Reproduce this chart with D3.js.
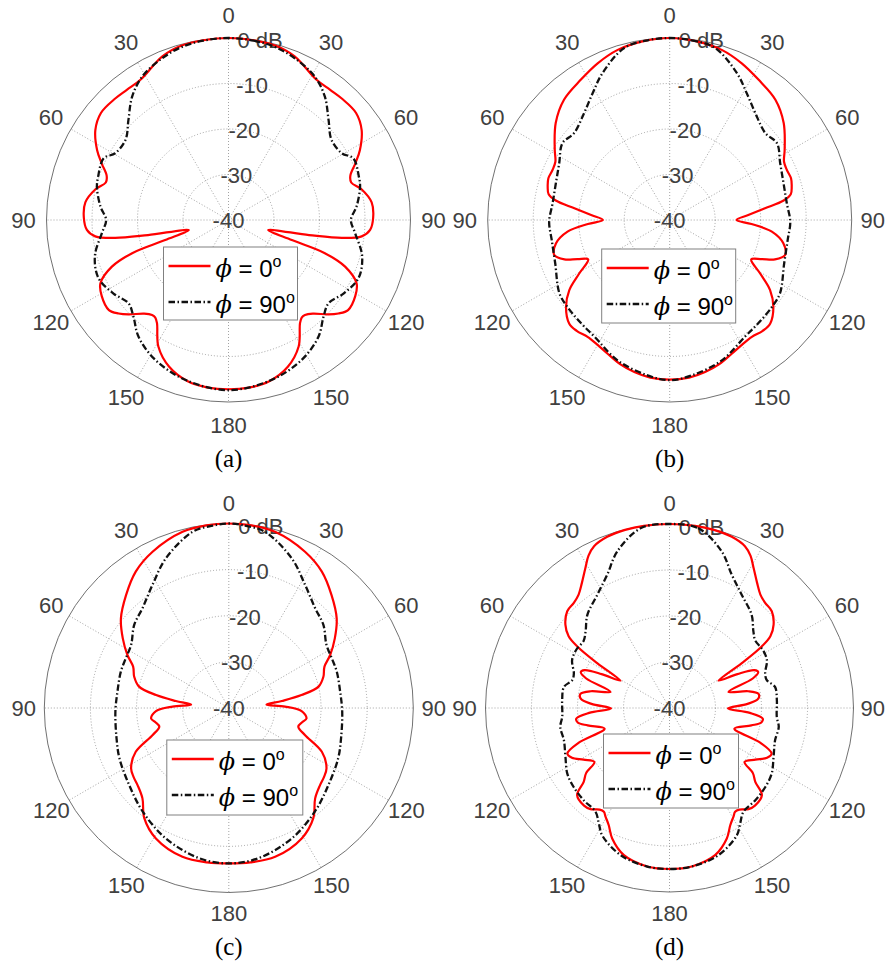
<!DOCTYPE html>
<html lang="en">

<head>
  <meta charset="utf-8">
  <style>
    body { margin: 0; background: #fff; }
    svg { display: block; }
  </style>
</head>

<body>
  <script src="https://cdn.jsdelivr.net/npm/d3@7"></script>
  <script>

  // angle labels, clockwise from the top, one every 30 degrees
  var thetaLabels = ["0", "30", "60", "90", "120", "150", "180", "150", "120", "90", "60", "30"];
  var rTicks = [0, -10, -20, -30, -40];
  var captions = ["(a)", "(b)", "(c)", "(d)"];
  var legendLabels = ["0", "90"];

  // [theta (deg), gain (dB)], theta 0..180, pattern drawn mirrored on both sides
  var aPhi0 = [[0, 0], [8, -0.1], [15, -0.3], [22, -1.2], [32, -3.6], [38, -3.7], [43, -3.5], [50, -3.4],
    [56, -4.7], [62, -7.3], [66, -9.5], [70, -11.5], [73, -11.8], [77, -10], [83, -8.3], [89, -8.2],
    [94, -8.8], [97, -10.5], [99, -14.8], [100.6, -22], [104.3, -31], [107.6, -25.4], [109, -17.6],
    [111.8, -12.4], [116.3, -8.6], [121, -7.5], [127, -7.1], [130.4, -8.3], [133.4, -9.8], [138, -12.3],
    [141.2, -13.2], [143.1, -13.2], [145.3, -12.4], [151, -8.2], [158, -5.2], [166, -3.4], [173, -2.9], [180, -2.8]];
  var aPhi90 = [[0, 0], [8, -0.2], [15, -0.6], [22.4, -1.6], [31, -3.2], [38, -5.6], [45, -8.9], [52, -11.3],
    [59.5, -11.1], [63.7, -9.4], [71.6, -9.8], [76, -10.2], [84, -11.7], [90, -13.1], [96, -12],
    [105, -9.6], [114, -8.7], [122.6, -10], [129.8, -11.4], [135.5, -10.2], [142.4, -7.6], [152.4, -5.3],
    [165, -3.6], [180, -2.6]];

  var bPhi0 = [[0, 0], [9, -0.3], [17, -0.9], [24.7, -2.1], [32.3, -3.5], [41.3, -4.8], [49.6, -7.1],
    [58.6, -10.4], [63, -11.8], [66.9, -12], [71, -11.8], [74.7, -12.2], [78, -12.8], [80.3, -14.6],
    [83, -18.9], [86.4, -22.7], [90, -25.3], [92.8, -22], [96.5, -17.4], [101.6, -14.5], [106.9, -13.5],
    [110.5, -15.3], [113, -18], [115.8, -20.1], [120.6, -16.9], [124.9, -13.1], [129.9, -10.3],
    [135.8, -8.3], [140, -8.2], [144.9, -8.6], [150, -8.3], [155.1, -7.6], [161, -6.5], [166.9, -5.7],
    [173, -5.1], [180, -4.9]];
  var bPhi90 = [[0, 0], [7, -0.2], [14.8, -0.9], [24.6, -4.5], [31.3, -7.4], [38.7, -9.9], [47.7, -11.6],
    [54.4, -11], [62.8, -12.7], [72, -13.7], [82, -14], [90.8, -13.5], [99.6, -13.7], [110.7, -13.1],
    [123.6, -10.9], [130.4, -10.5], [139.4, -10.1], [147.1, -9.5], [159.6, -7.1], [171.9, -5.5], [180, -4.8]];

  var cPhi0 = [[0, 0], [7, -0.1], [14.7, -0.5], [26, -2.3], [34.3, -4.2], [42.3, -6.9], [50.3, -9.6],
    [56.7, -12.5], [62.4, -15.2], [66.6, -17.4], [71.7, -18.4], [76.6, -20], [79.9, -24], [82.5, -28.4],
    [85, -31.8], [88.6, -27.8], [92.4, -24.2], [97.6, -23], [101, -23.8], [105, -24.4], [109.5, -22.5],
    [115.2, -17.7], [121.7, -15.1], [126, -14.5], [130.2, -14.1], [136.3, -12.9], [142.5, -9.9],
    [150.8, -7.6], [162.7, -6.2], [172, -6.2], [180, -6.3]];
  var cPhi90 = [[0, 0], [5, -0.3], [11.6, -1], [22.8, -4.8], [31.8, -8.6], [40.9, -11.4], [48.7, -12.7],
    [57.2, -14.8], [64.2, -15.2], [71.4, -15.3], [81.6, -15.6], [91.8, -15.4], [105, -14.8],
    [114.7, -13.9], [127.7, -12.7], [140.3, -10.8], [154.2, -8.6], [168.9, -6.8], [180, -6.3]];

  var dPhi0 = [[0, 0], [8, 0], [14, -0.1], [20, -0.4], [25, -1.2], [28, -2.5], [31, -4.5], [35, -6.8],
    [38.7, -8.4], [42.3, -9.1], [46.6, -9.4], [51.3, -11], [54.6, -13.1], [56.3, -15.9], [58.2, -21.5],
    [60.9, -27.8], [63.5, -23.5], [66, -19.8], [68, -19.2], [70.5, -20.8], [74.7, -26.7], [78, -22.5],
    [81, -20.4], [84, -20.6], [87, -23], [90.5, -27.3], [93.5, -22.5], [96.5, -19.6], [99, -19.8],
    [102, -21.8], [107.6, -25.2], [111, -18.8], [114, -15.7], [117, -16.2], [121, -18.2], [125.7, -19.9],
    [128, -17], [130.7, -15.4], [133.3, -12.4], [138.8, -11.8], [142, -12.1], [145.5, -13.2],
    [147.7, -13.3], [149.5, -12.6], [152.6, -11.3], [156.3, -9], [162.8, -6.5], [172, -5.2], [180, -5]];
  var dPhi90 = [[0, 0], [9, -0.4], [18.4, -4.1], [25, -8], [32.5, -10.8], [41.4, -13], [47.6, -15.3],
    [52, -16.3], [58, -16.1], [63.8, -16.4], [70.2, -17.9], [74, -18], [78.7, -16.6], [85.8, -16.6],
    [94.7, -16.6], [99.8, -15.9], [107, -16], [115.2, -15], [122.7, -13.6], [129.5, -13], [137.2, -12.6],
    [144.5, -12.3], [148.5, -10.6], [152.1, -8.7], [161.6, -6.3], [172, -5.2], [180, -5]];

  var width = 886, height = 965;
  var sans = "'Liberation Sans', Arial, sans-serif";

  var panels = [
    {cx: 228.5, cy: 220, R: 182, capY: 467, leg: [-65, 27, 134, 73], red: aPhi0, black: aPhi90},
    {cx: 669.7, cy: 220, R: 182, capY: 467, leg: [-68, 29, 134, 74], red: bPhi0, black: bPhi90},
    {cx: 228.8, cy: 708, R: 184.5, capY: 955, leg: [-62, 32, 136, 75], red: cPhi0, black: cPhi90},
    {cx: 669.5, cy: 708, R: 184, capY: 955, leg: [-66, 26, 135, 74], red: dPhi0, black: dPhi90}
  ];

  var rad = Math.PI / 180;

  var svg = d3.select("body").append("svg")
  .attr("width", width)
  .attr("height", height);

  // mirror the 0..180 half onto the other side, as a closed loop
  function loop(data) {
    return data.concat(data.slice(1, -1).reverse().map(function(d) { return [360 - d[0], d[1]]; }));
  }

  panels.forEach(function(p, i) {
    var scaleR = d3.scaleLinear().domain([-40, 0]).range([0, p.R]);
    var labelR = 205;

    var g = svg.append("g")
    .attr("transform", "translate(" + p.cx + "," + p.cy + ")");

    // grid
    g.selectAll(".ring")
    .data(rTicks.slice(1, -1))
    .enter().append("circle")
    .attr("class", "ring")
    .attr("r", function(d) { return scaleR(d); })
    .attr("fill", "none")
    .attr("stroke", "#8c8c8c")
    .attr("stroke-width", 0.8)
    .attr("stroke-dasharray", "1,2");

    g.selectAll(".spoke")
    .data(d3.range(0, 360, 30))
    .enter().append("line")
    .attr("class", "spoke")
    .attr("x1", 0).attr("y1", 0)
    .attr("x2", function(d) { return p.R * Math.sin(d * rad); })
    .attr("y2", function(d) { return -p.R * Math.cos(d * rad); })
    .attr("stroke", "#8c8c8c")
    .attr("stroke-width", 0.8)
    .attr("stroke-dasharray", "1,2");

    g.append("circle")
    .attr("r", p.R)
    .attr("fill", "none")
    .attr("stroke", "#4d4d4d")
    .attr("stroke-width", 0.8);

    // angle labels
    g.selectAll(".tlabel")
    .data(thetaLabels)
    .enter().append("text")
    .attr("class", "tlabel")
    .attr("x", function(d, j) { return labelR * Math.sin(j * 30 * rad); })
    .attr("y", function(d, j) { return -labelR * Math.cos(j * 30 * rad); })
    .attr("dy", "0.35em")
    .attr("text-anchor", "middle")
    .style("font-family", sans)
    .style("font-size", "22px")
    .attr("fill", "#404040")
    .text(function(d) { return d; })
    .each(function() {
      // keep labels inside the page
      var bb = this.getBBox();
      var over = p.cx + bb.x + bb.width - (width - 1);
      if (over > 0) d3.select(this).attr("x", +d3.select(this).attr("x") - over);
    });

    // radial labels along the 10 degree line
    g.selectAll(".rlabel")
    .data(rTicks)
    .enter().append("text")
    .attr("class", "rlabel")
    .attr("x", function(d) { return scaleR(d) * Math.sin(10 * rad); })
    .attr("y", function(d) { return -scaleR(d) * Math.cos(10 * rad); })
    .attr("dy", "0.35em")
    .attr("text-anchor", "middle")
    .style("font-family", sans)
    .style("font-size", "22px")
    .attr("fill", "#404040")
    .text(function(d) { return d === 0 ? "0 dB" : d; });

    var line = d3.lineRadial()
    .angle(function(d) { return d[0] * rad; })
    .radius(function(d) { return scaleR(d[1]); })
    .curve(d3.curveCatmullRomClosed.alpha(0.5));

    g.append("path")
    .attr("d", line(loop(p.red)))
    .attr("fill", "none")
    .attr("stroke", "#ff0000")
    .attr("stroke-width", 2.2);

    g.append("path")
    .attr("d", line(loop(p.black)))
    .attr("fill", "none")
    .attr("stroke", "#111")
    .attr("stroke-width", 2.3)
    .attr("stroke-dasharray", "6.5,2.5,1.5,2.5");

    // legend
    var lg = g.append("g")
    .attr("transform", "translate(" + p.leg[0] + "," + p.leg[1] + ")");

    lg.append("rect")
    .attr("width", p.leg[2])
    .attr("height", p.leg[3])
    .attr("fill", "#fff")
    .attr("stroke", "#808080")
    .attr("stroke-width", 1);

    var rows = lg.selectAll(".row")
    .data(legendLabels)
    .enter().append("g")
    .attr("class", "row")
    .attr("transform", function(d, j) { return "translate(0," + (19 + j * 36) + ")"; });

    rows.append("line")
    .attr("x1", 5).attr("x2", 47)
    .attr("stroke", function(d, j) { return j === 0 ? "#ff0000" : "#111"; })
    .attr("stroke-width", 2.3)
    .attr("stroke-dasharray", function(d, j) { return j === 0 ? null : "6.5,2.5,1.5,2.5"; });

    var txt = rows.append("text")
    .attr("x", 52)
    .attr("y", 11)
    .style("font-family", sans)
    .style("font-size", "24px")
    .attr("fill", "#000");

    txt.append("tspan")
    .style("font-family", "'DejaVu Serif', serif")
    .style("font-style", "italic")
    .text("\u03d5");
    txt.append("tspan")
    .text(function(d) { return " = " + d; });
    txt.append("tspan")
    .style("font-size", "16px")
    .attr("dy", -10)
    .text("o");

    // caption
    svg.append("text")
    .attr("x", p.cx)
    .attr("y", p.capY)
    .attr("text-anchor", "middle")
    .style("font-family", "'Liberation Serif', 'Times New Roman', serif")
    .style("font-size", "25px")
    .attr("fill", "#000")
    .text(captions[i]);
  });

</script>
</body>

</html>
